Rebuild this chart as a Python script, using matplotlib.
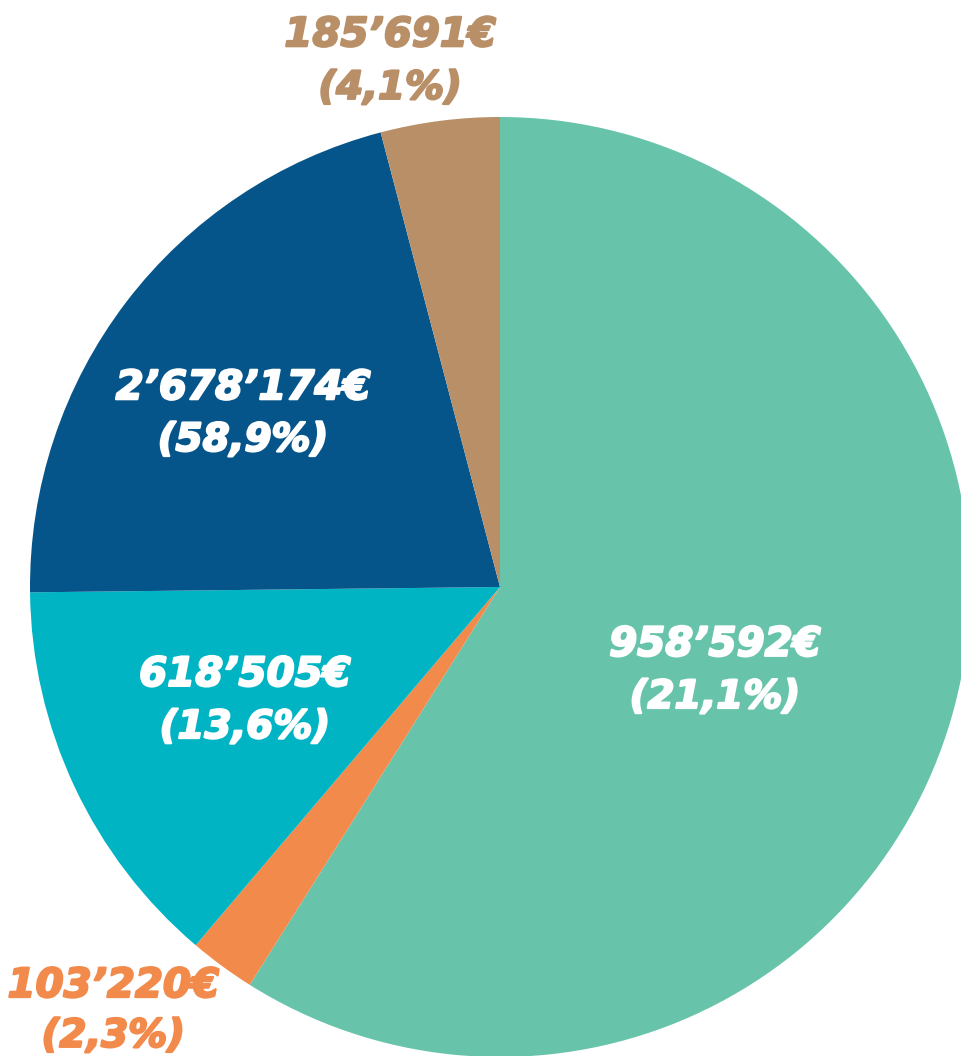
import matplotlib
matplotlib.use('Agg')
import matplotlib.pyplot as plt
import matplotlib.patheffects as pe

# slice sizes as drawn, clockwise from 12 o'clock
slice_values = [2678174, 103220, 618505, 958592, 185691]
slice_colors = ['#67C4AB', '#F28A4B', '#00B4C4', '#05558B', '#B98F68']
# label texts as printed on the chart
amount_labels = ['958’592€', '103’220€', '618’505€', '2’678’174€', '185’691€']
pct_labels = ['(21,1%)', '(2,3%)', '(13,6%)', '(58,9%)', '(4,1%)']
label_colors = ['white', '#F28A4B', 'white', 'white', '#B98F68']
# label anchors in data units (pie radius = 1): x, y of amount line, y of pct line
label_pos = [(0.457, -0.123, -0.234), (-0.823, -0.849, -0.955),
             (-0.543, -0.187, -0.298), (-0.547, 0.423, 0.313),
             (-0.234, 1.174, 1.062)]

R_PX = 470.0
CX, CY = 500.0, 587.0
W, H = 962, 1056

fig = plt.figure(figsize=(W / 100, H / 100), dpi=100)
ax = fig.add_axes([0, 0, 1, 1])
ax.pie(slice_values, colors=slice_colors, startangle=90, counterclock=False,
       radius=1, wedgeprops=dict(linewidth=0))
ax.set_aspect('auto')
ax.set_xlim(-CX / R_PX, (W - CX) / R_PX)
ax.set_ylim(-(H - CY) / R_PX, CY / R_PX)
ax.axis('off')

style = dict(ha='center', va='center', fontweight='bold', fontstyle='italic',
             family='DejaVu Sans')
for (x, y1, y2), a, p, c in zip(label_pos, amount_labels, pct_labels, label_colors):
    heavy = [pe.withStroke(linewidth=1.6, foreground=c)]
    ax.text(x, y1, a, color=c, fontsize=29, path_effects=heavy, **style)
    ax.text(x, y2, p, color=c, fontsize=28, path_effects=heavy, **style)

fig.savefig('out.png', dpi=100)
